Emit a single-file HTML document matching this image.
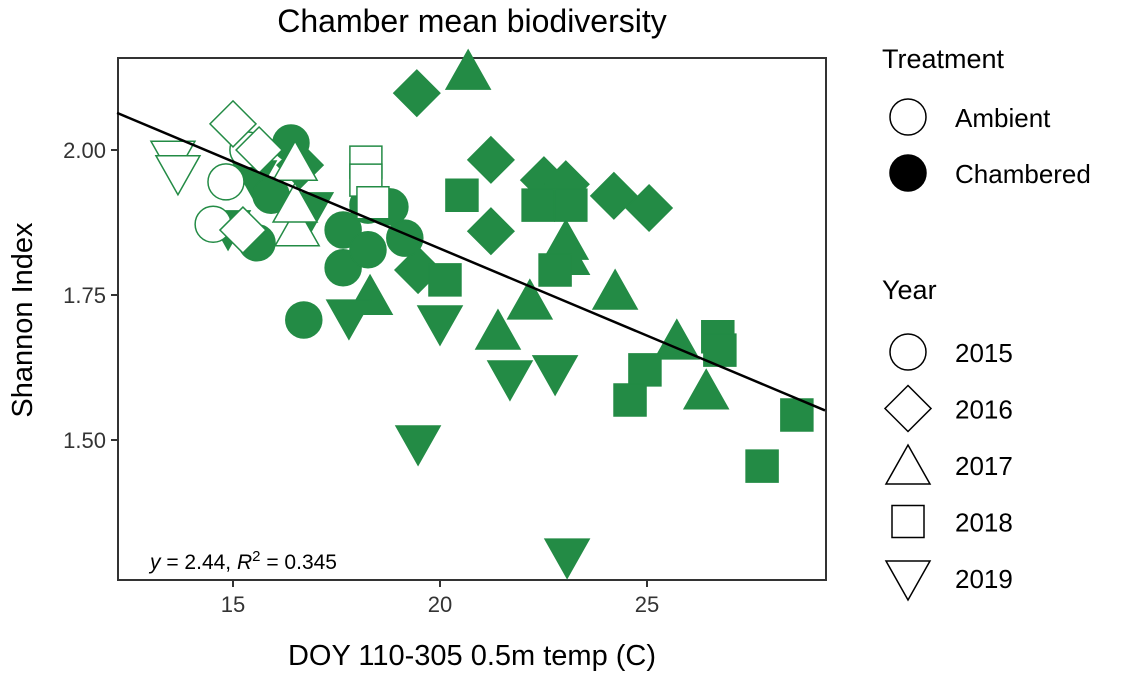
<!DOCTYPE html>
<html><head><meta charset="utf-8"><style>
body{margin:0;background:#fff;font-family:"Liberation Sans",sans-serif;}
svg text{font-family:"Liberation Sans",sans-serif;}
</style></head><body>
<svg id="chart" width="1125" height="673" xmlns="http://www.w3.org/2000/svg">
<text x="472" y="32" font-size="32" text-anchor="middle">Chamber mean biodiversity</text>
<rect x="118" y="58" width="708" height="522" fill="none" stroke="#333" stroke-width="2"/>
<g id="marks"></g>
<g id="axes"></g>
<text x="150" y="569" font-size="21"><tspan font-style="italic">y</tspan> = 2.44,  <tspan font-style="italic">R</tspan><tspan dy="-8" font-size="15">2</tspan><tspan dy="8"> = 0.345</tspan></text>
<text x="472" y="665" font-size="29" text-anchor="middle">DOY 110-305 0.5m temp (C)</text>
<text transform="translate(32,320) rotate(-90)" font-size="29" text-anchor="middle">Shannon Index</text>
<g id="legend"></g>
</svg>
<script>
const xs=[19.44,21.23,21.23,22.51,23.04,24.20,25.05,19.47,16.62,
20.68,23.04,23.07,22.17,24.23,21.40,25.72,26.43,18.31,
20.53,22.37,23.16,22.78,20.12,26.71,26.76,24.95,24.59,27.78,28.62,
19.47,23.07,20.00,21.69,22.78,17.80,15.51,14.88,16.88,
16.40,15.92,17.66,18.26,19.15,17.66,18.26,16.71,15.58,18.79,
14.83,14.52,15.36,15.0,15.63,15.24,16.50,16.55,16.50,18.21,18.21,18.38,13.55,13.67];
const ys=[2.098,1.983,1.860,1.948,1.941,1.921,1.900,1.793,1.974,
2.129,1.836,1.810,1.733,1.750,1.681,1.664,1.578,1.741,
1.922,1.905,1.905,1.793,1.776,1.678,1.655,1.621,1.569,1.455,1.543,
1.500,1.305,1.707,1.612,1.621,1.717,1.957,1.871,1.902,
2.012,1.922,1.862,1.905,1.848,1.797,1.828,1.707,1.840,1.902,
1.945,1.872,2.000,2.045,2.000,1.862,1.972,1.859,1.900,1.979,1.948,1.909,1.991,1.966];
const years=[2016,2016,2016,2016,2016,2016,2016,2016,2016,
2017,2017,2017,2017,2017,2017,2017,2017,2017,
2018,2018,2018,2018,2018,2018,2018,2018,2018,2018,2018,
2019,2019,2019,2019,2019,2019,2019,2019,2019,
2015,2015,2015,2015,2015,2015,2015,2015,2015,2015,
2015,2015,2015,2016,2016,2016,2017,2017,2017,2018,2018,2018,2019,2019];
const chambered=[1,1,1,1,1,1,1,1,1,1,1,1,1,1,1,1,1,1,1,1,1,1,1,1,1,1,1,1,1,1,1,1,1,1,1,1,1,1,1,1,1,1,1,1,1,1,1,1,
0,0,0,0,0,0,0,0,0,0,0,0,0,0];
const xTicks=[15,20,25];
const yTicks=[1.50,1.75,2.00];
const fitIntercept=2.43, fitSlope=-0.0300;
const G='#238b45',NS='http://www.w3.org/2000/svg';
const X=v=>233+(v-15)*41.4, Y=v=>150-(v-2)*580;
function shape(year,cx,cy,s){
  if(year===2015){const e=document.createElementNS(NS,'circle');e.setAttribute('cx',cx);e.setAttribute('cy',cy);e.setAttribute('r',18*s);return e;}
  const e=document.createElementNS(NS,'polygon');let p;
  if(year===2016)p=[[0,-23],[23,0],[0,23],[-23,0]];
  else if(year===2017)p=[[0,-25],[22,14],[-22,14]];
  else if(year===2018)p=[[-16,-16],[16,-16],[16,16],[-16,16]];
  else p=[[0,25],[22,-14],[-22,-14]];
  e.setAttribute('points',p.map(q=>(cx+q[0]*s)+','+(cy+q[1]*s)).join(' '));return e;}
const marks=document.getElementById('marks');
for(let i=0;i<xs.length;i++){
  const e=shape(years[i],X(xs[i]),Y(ys[i]),1);
  e.setAttribute('fill',chambered[i]?G:'#fff');
  e.setAttribute('stroke',G);e.setAttribute('stroke-width','1.5');
  
  
  marks.appendChild(e);}
const ln=document.createElementNS(NS,'line');
ln.setAttribute('x1',X(12.2));ln.setAttribute('y1',Y(fitIntercept+fitSlope*12.2));
ln.setAttribute('x2',X(29.3));ln.setAttribute('y2',Y(fitIntercept+fitSlope*29.3));
ln.setAttribute('stroke','#000');ln.setAttribute('stroke-width','2.5');


marks.appendChild(ln);
const axes=document.getElementById('axes');
xTicks.forEach(t=>{
  const l=document.createElementNS(NS,'line');l.setAttribute('x1',X(t));l.setAttribute('x2',X(t));l.setAttribute('y1',580);l.setAttribute('y2',587);l.setAttribute('stroke','#333');l.setAttribute('stroke-width','2');
  
  
  axes.appendChild(l);
  const tx=document.createElementNS(NS,'text');tx.setAttribute('x',X(t));tx.setAttribute('y',612);tx.setAttribute('font-size','22');tx.setAttribute('text-anchor','middle');tx.setAttribute('fill','#333');tx.textContent=t;
  
  
  axes.appendChild(tx);});
yTicks.forEach(t=>{
  const l=document.createElementNS(NS,'line');l.setAttribute('x1',111);l.setAttribute('x2',118);l.setAttribute('y1',Y(t));l.setAttribute('y2',Y(t));l.setAttribute('stroke','#333');l.setAttribute('stroke-width','2');
  
  
  axes.appendChild(l);
  const tx=document.createElementNS(NS,'text');tx.setAttribute('x',106);tx.setAttribute('y',Y(t)+8);tx.setAttribute('font-size','22');tx.setAttribute('text-anchor','end');tx.setAttribute('fill','#333');tx.textContent=t.toFixed(2);
  
  
  axes.appendChild(tx);});
const lg=document.getElementById('legend');
function txt(s,x,y,sz,name){const t=document.createElementNS(NS,'text');t.setAttribute('x',x);t.setAttribute('y',y);t.setAttribute('font-size',sz);t.textContent=s;
  
  
  lg.appendChild(t);}
txt('Treatment',882,68,27,'legend-title-treatment');
[['Ambient','#fff',117],['Chambered','#000',173]].forEach(r=>{
  const c=shape(2015,908,r[2],1);c.setAttribute('fill',r[1]);c.setAttribute('stroke','#000');c.setAttribute('stroke-width','1.5');
  
  
  lg.appendChild(c);txt(r[0],955,r[2]+10,26,'legend-label-'+r[0].toLowerCase());});
txt('Year',882,299,27,'legend-title-year');
[2015,2016,2017,2018,2019].forEach((yr,i)=>{
  const cy=352+i*56.5;const c=shape(yr,908,yr===2017?cy+5:(yr===2019?cy-3:cy),1);c.setAttribute('fill','#fff');c.setAttribute('stroke','#000');c.setAttribute('stroke-width','1.5');
  
  
  lg.appendChild(c);txt(String(yr),955,cy+10,26,'legend-label-'+yr);});
</script>
</body></html>
